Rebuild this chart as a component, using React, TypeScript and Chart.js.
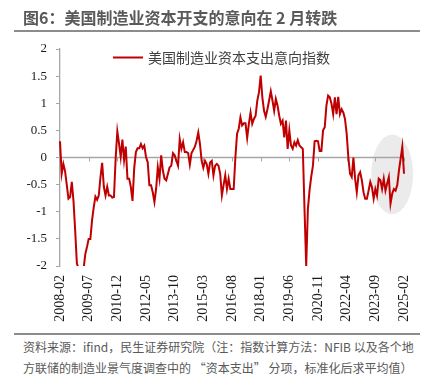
import React, { useEffect, useRef } from "react";
import { Chart, registerables } from "chart.js";

Chart.register(...registerables);

// Monthly categories 2008-02 ... 2025-02
const categories: string[] = [];
for (let y = 2008; y <= 2025; y++) {
  for (let m = 1; m <= 12; m++) {
    if (y === 2008 && m < 2) continue;
    if (y === 2025 && m > 2) continue;
    categories.push(`${y}-${String(m).padStart(2, "0")}`);
  }
}

const tickLabels = [
  "2008-02", "2009-07", "2010-12", "2012-05", "2013-10", "2015-03", "2016-08",
  "2018-01", "2019-06", "2020-11", "2022-04", "2023-09", "2025-02",
];

const yTicks = [2, 1.5, 1, 0.5, 0, -0.5, -1, -1.5, -2];

const seriesLabel = "美国制造业资本支出意向指数";

const capexIndex = [
  // 2008 (Feb-Dec)
  0.30, -0.30, -0.12, -0.25, -0.50, -0.76, -0.73, -0.45, -0.80, -1.35, -1.95,
  // 2009
  -2.05, -2.40, -2.35, -2.05, -1.78, -1.65, -1.50, -1.50, -1.16, -0.92, -0.72, -0.78,
  // 2010
  -0.70, -0.36, -0.10, -0.54, -0.70, -0.54, -0.70, -0.70, -0.74, -0.73, -0.02, 0.48,
  // 2011
  0.26, 0.01, 0.33, -0.05, 0.20, -0.39, -0.39, -0.54, -0.80, -0.20, 0.10, 0.17,
  // 2012
  0.17, 0.25, 0.17, 0.22, 0.01, -0.08, -0.51, -0.51, -0.64, -0.82, -0.58, -0.18,
  // 2013
  -0.39, 0.04, -0.24, -0.39, -0.42, -0.30, -0.18, -0.15, 0.08, 0.04, -0.06, -0.15,
  // 2014
  0.34, 0.16, 0.28, 0.10, 0.10, 0.08, -0.13, 0.08, 0.14, 0.20, 0.31, 0.46,
  // 2015
  0.25, -0.06, -0.19, -0.06, -0.12, -0.30, -0.09, -0.06, -0.33, -0.15, -0.12, -0.15,
  // 2016
  -0.30, -0.70, -0.51, -0.33, -0.58, -0.39, -0.58, -0.58, -0.58, 0.00, 0.44, 0.53,
  // 2017
  0.74, 0.59, 0.63, 0.63, 0.36, 0.62, 0.83, 0.62, 0.71, 0.77, 1.05, 1.20,
  // 2018
  1.51, 1.11, 0.86, 0.75, 0.89, 1.05, 1.22, 1.05, 0.86, 1.08, 0.96, 0.77,
  // 2019
  0.62, 0.68, 0.37, 0.68, 0.16, 0.50, 0.22, 0.16, 0.28, 0.22, 0.32, 0.22,
  // 2020
  0.19, 0.16, -0.95, -2.00, -0.95, -0.60, -0.35, -0.15, 0.30, 0.31, 0.30, 0.12,
  // 2021
  0.12, 0.50, 0.56, 0.96, 1.14, 1.11, 0.99, 0.80, 1.11, 0.80, 1.12, 0.80,
  // 2022
  0.89, 0.83, 0.71, 0.44, 0.00, -0.30, -0.36, 0.00, -0.39, -0.64, -0.33, -0.27,
  // 2023
  -0.42, -0.64, -0.76, -0.76, -0.61, -0.45, -0.55, -0.76, -0.58, -0.70, -0.39, -0.42,
  // 2024
  -0.58, -0.39, -0.61, -0.48, -0.36, -0.85, -0.67, -0.58, -0.61, -0.51, -0.24, -0.02,
  // 2025 (Jan-Feb)
  0.20, -0.30,
];

// highlighted region (ellipse) in data units
const highlightCenter = { index: 197, value: -0.31 };
const highlightRadius = { months: 12.4, value: 0.735 };

const AXIS_GREY = "#a6a6a6";
const TICK_FONT = "Liberation Serif";

export default function App() {
  const canvasRef = useRef<HTMLCanvasElement>(null);

  useEffect(() => {
    const canvas = canvasRef.current;
    if (!canvas) return;

    const backdrop = {
      id: "backdrop",
      beforeDatasetsDraw(chart: any) {
        const { ctx, scales } = chart;
        const xs = scales.x;
        const ys = scales.y;
        const pxPerMonth =
          (xs.getPixelForValue(categories.length - 1) - xs.getPixelForValue(0)) /
          (categories.length - 1);
        const cx = xs.getPixelForValue(highlightCenter.index);
        const cy = ys.getPixelForValue(highlightCenter.value);
        const rx = pxPerMonth * highlightRadius.months;
        const ry = Math.abs(ys.getPixelForValue(0) - ys.getPixelForValue(highlightRadius.value));
        ctx.save();
        ctx.fillStyle = "#ebebeb";
        ctx.beginPath();
        ctx.ellipse(cx, cy, rx, ry, 0, 0, Math.PI * 2);
        ctx.fill();

        // zero line with tick marks
        const y0 = ys.getPixelForValue(0);
        ctx.strokeStyle = AXIS_GREY;
        ctx.lineWidth = 1.5;
        ctx.beginPath();
        ctx.moveTo(chart.chartArea.left, y0);
        ctx.lineTo(chart.chartArea.right, y0);
        ctx.stroke();
        ctx.lineWidth = 1;
        categories.forEach((c, i) => {
          if (!tickLabels.includes(c)) return;
          const x = Math.round(xs.getPixelForValue(i)) + 0.5;
          ctx.beginPath();
          ctx.moveTo(x, y0);
          ctx.lineTo(x, y0 + 4);
          ctx.stroke();
        });
        ctx.restore();
      },
    };

    const lineLegend = {
      id: "lineLegend",
      afterDraw(chart: any) {
        const { ctx, chartArea } = chart;
        const ds = chart.data.datasets[0];
        const x0 = chartArea.left + 53;
        const y = chartArea.top + 8.5;
        ctx.save();
        ctx.strokeStyle = ds.borderColor;
        ctx.lineWidth = 2;
        ctx.beginPath();
        ctx.moveTo(x0, y);
        ctx.lineTo(x0 + 30, y);
        ctx.stroke();
        ctx.fillStyle = "#404040";
        ctx.font = '14px "Noto Sans CJK SC"';
        ctx.textBaseline = "middle";
        ctx.textAlign = "left";
        ctx.fillText(ds.label, x0 + 35, y + 0.5);
        ctx.restore();
      },
    };

    const chart = new Chart(canvas, {
      type: "line",
      data: {
        labels: categories,
        datasets: [
          {
            label: seriesLabel,
            data: capexIndex,
            borderColor: "#c00000",
            backgroundColor: "#c00000",
            borderWidth: 2,
            pointRadius: 0,
            tension: 0,
            fill: false,
          },
        ],
      },
      options: {
        responsive: false,
        animation: false,
        layout: { padding: { left: 0, right: 30, top: 49, bottom: 0 } },
        plugins: {
          legend: { display: false },
          tooltip: { enabled: false },
        },
        scales: {
          x: {
            type: "category",
            grid: { display: false, drawTicks: false },
            border: { display: false },
            ticks: {
              autoSkip: false,
              minRotation: 90,
              maxRotation: 90,
              padding: 9,
              color: "#1a1a1a",
              font: { family: TICK_FONT, size: 14 },
              callback: (_v: any, i: number) =>
                tickLabels.includes(categories[i]) ? categories[i] : "",
            },
            afterFit: (s: any) => {
              s.height = 64;
            },
          },
          y: {
            min: yTicks[yTicks.length - 1],
            max: yTicks[0],
            afterBuildTicks: (s: any) => {
              s.ticks = yTicks.slice().reverse().map((v) => ({ value: v }));
            },
            ticks: {
              autoSkip: false,
              padding: 9,
              color: "#1a1a1a",
              font: { family: TICK_FONT, size: 13 },
              callback: (v: any) => String(Number(v)),
            },
            grid: {
              drawOnChartArea: false,
              drawTicks: true,
              tickLength: 4,
              color: AXIS_GREY,
              lineWidth: 1,
            },
            border: { display: true, color: AXIS_GREY, width: 1.3 },
            afterFit: (s: any) => {
              s.width = 60;
            },
          },
        },
      },
      plugins: [backdrop, lineLegend],
    });

    return () => chart.destroy();
  }, []);

  return (
    <div
      style={{
        position: "fixed",
        left: 0,
        top: 0,
        width: 434,
        height: 391,
        background: "#ffffff",
        overflow: "hidden",
      }}
    >
      <canvas
        ref={canvasRef}
        width={434}
        height={330}
        style={{ position: "absolute", left: 0, top: 0, width: 434, height: 330 }}
      />
      <div
        style={{
          position: "absolute",
          left: 23,
          top: 5,
          fontFamily: '"Noto Sans CJK SC", sans-serif',
          fontWeight: 700,
          fontSize: 16,
          lineHeight: "24px",
          color: "#595959",
          whiteSpace: "nowrap",
        }}
      >
        图6：美国制造业资本开支的意向在 2 月转跌
      </div>
      <div
        style={{
          position: "absolute",
          left: 14,
          top: 30,
          width: 406,
          height: 1.5,
          background: "#8c8c8c",
        }}
      />
      <div
        style={{
          position: "absolute",
          left: 14,
          top: 333,
          width: 406,
          height: 1.5,
          background: "#8c8c8c",
        }}
      />
      <div
        style={{
          position: "absolute",
          left: 23,
          top: 337,
          fontFamily: '"Noto Sans CJK SC", sans-serif',
          fontSize: 12,
          lineHeight: "20.5px",
          color: "#595959",
          whiteSpace: "nowrap",
        }}
      >
        <div>资料来源：ifind，民生证券研究院（注：指数计算方法：NFIB 以及各个地</div>
        <div>方联储的制造业景气度调查中的 “资本支出” 分项，标准化后求平均值）</div>
      </div>
    </div>
  );
}
